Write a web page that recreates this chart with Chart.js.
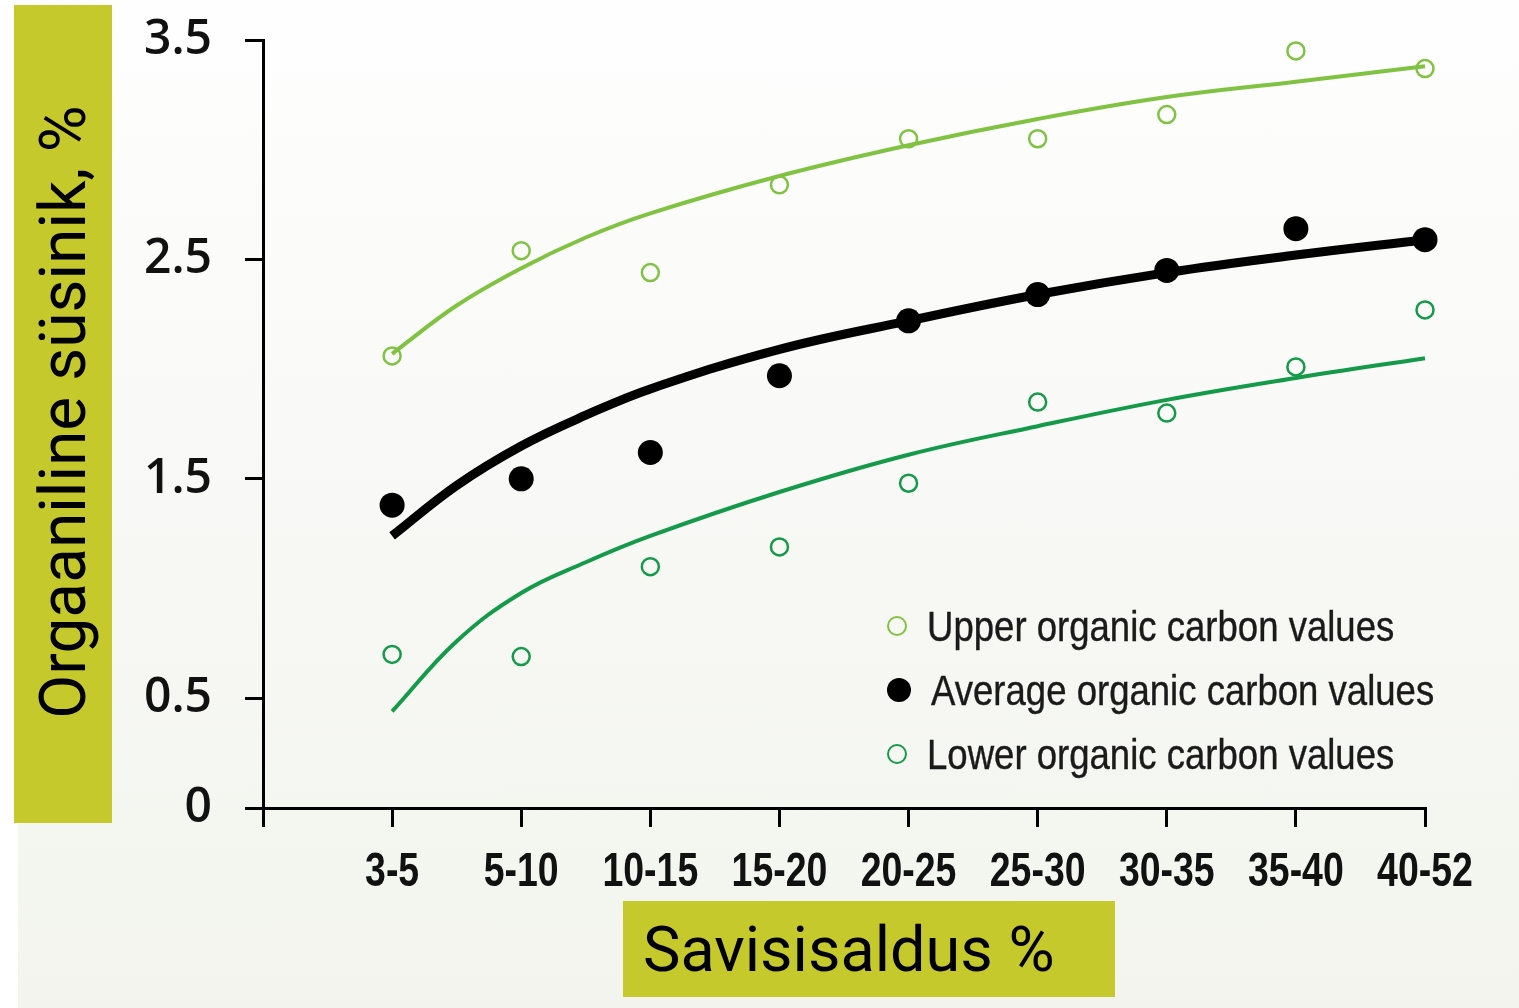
<!DOCTYPE html>
<html>
<head>
<meta charset="utf-8">
<script src="https://cdn.jsdelivr.net/npm/chart.js@4.4.0/dist/chart.umd.min.js"></script>
<style>
  html, body { margin: 0; padding: 0; background: #fff; }
  #page { position: relative; width: 1519px; height: 1008px; overflow: hidden; }
  #bg { position: absolute; left: 18px; top: 0; width: 1501px; height: 1008px;
        background: linear-gradient(#fefefe, #f2f4ed); }
  #ybox { position: absolute; left: 14px; top: 5px; width: 98px; height: 818px; background: #c5c92c; }
  #ytitle { position: absolute; left: 63px; top: 412px; transform: translate(-50%, -50%) rotate(-90deg);
            white-space: nowrap; font-family: Roboto, sans-serif; font-size: 64px; color: #000; }
  #xbox { position: absolute; left: 623px; top: 901px; width: 492px; height: 96px; background: #c5c92c; }
  #xtitle { position: absolute; left: 643px; top: 949px; transform: translateY(-50%);
            white-space: nowrap; font-family: Roboto, sans-serif; font-size: 63px; color: #000; }
  #wrap { position: absolute; left: 0; top: 0; width: 1519px; height: 1008px; }
  #legend { position: absolute; left: 887px; top: 594px; font-family: "Liberation Sans", sans-serif;
            font-size: 43px; color: #1a1a1a; line-height: 64px; }
  #legend div { white-space: nowrap; height: 64px; }
  #legend span.m { display: inline-block; box-sizing: border-box; vertical-align: middle; margin-right: 20px; border-radius: 50%; position: relative; top: -4px; }
  #legend span.t { display: inline-block; transform: scaleX(0.85); transform-origin: left center; -webkit-text-stroke: 0.4px #1a1a1a; }
</style>
</head>
<body>
<div id="page">
  <div id="bg"></div>
  <div id="ybox"></div>
  <div id="ytitle">Orgaaniline süsinik, %</div>
  <div id="xbox"></div>
  <div id="xtitle">Savisisaldus %</div>
  <div id="wrap"><canvas id="chart"></canvas></div>
  <div id="legend"></div>
</div>
<script>
const categories = ['3-5', '5-10', '10-15', '15-20', '20-25', '25-30', '30-35', '35-40', '40-52'];
const yTicks = [0, 0.5, 1.5, 2.5, 3.5];

const upperValues = [2.06, 2.54, 2.44, 2.84, 3.05, 3.05, 3.16, 3.45, 3.37];
const averageValues = [1.38, 1.50, 1.62, 1.97, 2.22, 2.34, 2.45, 2.64, 2.59];
const lowerValues = [0.70, 0.69, 1.10, 1.19, 1.48, 1.85, 1.80, 2.01, 2.27];

// trend curves (category index, extra readings half way in the steep start)
const trendX = [0, 0.5, 1, 1.5, 2, 3, 4, 5, 6, 7, 8];
const upperTrend = [2.07, 2.29, 2.46, 2.60, 2.71, 2.88, 3.02, 3.14, 3.24, 3.31, 3.38];
const averageTrend = [1.24, 1.47, 1.65, 1.79, 1.91, 2.09, 2.22, 2.34, 2.44, 2.52, 2.59];
const lowerTrend = [0.44, 0.76, 0.98, 1.12, 1.24, 1.44, 1.61, 1.74, 1.86, 1.96, 2.05];

const legendLabels = ['Upper organic carbon values', 'Average organic carbon values', 'Lower organic carbon values'];

const upperColour = '#80c242';
const lowerColour = '#149a48';
const xLabelFont = 'bold 48px "Liberation Sans", sans-serif';

function toPoints(values) {
    return values.map((v, i) => ({ x: i, y: v }));
}

function trendPoints(values) {
    return values.map((v, i) => ({ x: trendX[i], y: v }));
}

const datasets = [
    {
        label: 'upper trend', data: trendPoints(upperTrend), borderColor: upperColour, borderWidth: 4,
        pointRadius: 0, tension: 0.4, fill: false
    },
    {
        label: 'average trend', data: trendPoints(averageTrend), borderColor: '#000', borderWidth: 9,
        pointRadius: 0, tension: 0.4, fill: false
    },
    {
        label: 'lower trend', data: trendPoints(lowerTrend), borderColor: lowerColour, borderWidth: 4,
        pointRadius: 0, tension: 0.4, fill: false
    },
    {
        label: legendLabels[0], data: toPoints(upperValues), showLine: false,
        pointRadius: 8.5, pointBorderWidth: 2.5, pointBorderColor: upperColour, pointBackgroundColor: 'rgba(0,0,0,0)'
    },
    {
        label: legendLabels[1], data: toPoints(averageValues), showLine: false,
        pointRadius: 12.5, pointBorderWidth: 0, pointBackgroundColor: '#000', pointBorderColor: '#000'
    },
    {
        label: legendLabels[2], data: toPoints(lowerValues), showLine: false,
        pointRadius: 8.5, pointBorderWidth: 2.5, pointBorderColor: lowerColour, pointBackgroundColor: 'rgba(0,0,0,0)'
    }
];

// category labels under the x axis, narrowed like the condensed print font
const condensedXLabels = {
    id: 'condensedXLabels',
    afterDraw(chart) {
        const ctx = chart.ctx;
        const xScale = chart.scales.x;
        ctx.save();
        ctx.font = xLabelFont;
        ctx.fillStyle = '#111';
        ctx.textAlign = 'center';
        ctx.textBaseline = 'middle';
        categories.forEach((c, i) => {
            const px = xScale.getPixelForValue(i);
            ctx.save();
            ctx.translate(px, xScale.top + 65);
            ctx.scale(0.78, 1);
            ctx.fillText(c, 0, 0);
            ctx.restore();
        });
        ctx.restore();
    }
};

new Chart(document.getElementById('chart'), {
    type: 'line',
    data: { datasets: datasets },
    plugins: [condensedXLabels],
    options: {
        responsive: true,
        maintainAspectRatio: false,
        animation: false,
        events: [],
        clip: false,
        layout: { padding: { top: 40, right: 94, left: 0, bottom: 0 } },
        plugins: { legend: { display: false }, tooltip: { enabled: false } },
        scales: {
            x: {
                type: 'linear', min: -1, max: 8,
                afterBuildTicks: scale => { scale.ticks = [-1, 0, 1, 2, 3, 4, 5, 6, 7, 8].map(v => ({ value: v })); },
                afterFit: scale => { scale.height = 200; scale.paddingLeft = 0; scale.paddingRight = 0; },
                grid: { drawOnChartArea: false, color: '#000', lineWidth: 3, tickLength: 19 },
                border: { color: '#000', width: 3 },
                ticks: { display: false }
            },
            y: {
                min: 0, max: 3.5,
                afterBuildTicks: scale => { scale.ticks = yTicks.map(v => ({ value: v })); },
                afterFit: scale => { scale.width = 263; scale.paddingTop = 0; scale.paddingBottom = 0; },
                grid: { drawOnChartArea: false, color: '#000', lineWidth: 3, tickLength: 18 },
                border: { color: '#000', width: 3 },
                ticks: {
                    padding: 33, color: '#111',
                    font: { family: '"Open Sans", sans-serif', size: 48, weight: '600' },
                    callback: v => String(v)
                }
            }
        }
    }
});

// legend drawn as html, inside the plot
const legendBox = document.getElementById('legend');
const markers = [
    'width:20px;height:20px;border:2.5px solid ' + upperColour + ';',
    'width:24px;height:24px;background:#000;',
    'width:20px;height:20px;border:2.5px solid ' + lowerColour + ';'
];
legendLabels.forEach((label, i) => {
    const row = document.createElement('div');
    const m = document.createElement('span');
    m.className = 'm';
    m.style.cssText = markers[i];
    const t = document.createElement('span');
    t.className = 't';
    t.textContent = label;
    row.appendChild(m);
    row.appendChild(t);
    legendBox.appendChild(row);
});
</script>
</body>
</html>
